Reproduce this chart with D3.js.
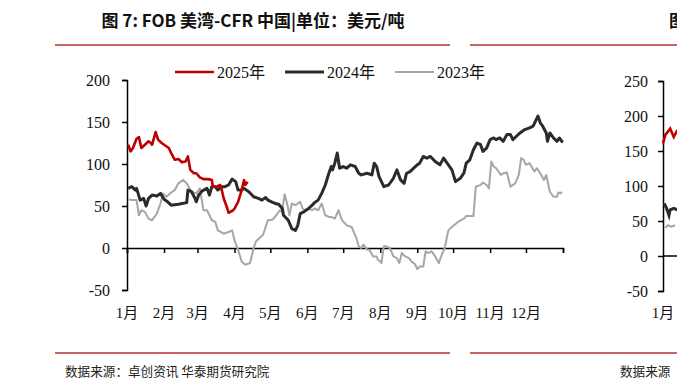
<!DOCTYPE html>
<html>
<head>
<meta charset="utf-8">
<script src="https://cdn.jsdelivr.net/npm/d3@7"></script>
<style>
  body { margin: 0; background: #fff; }
  svg { display: block; }
</style>
</head>
<body>
<div id="chart"></div>
<script>
// Canvas size
var svgWidth = 677;
var svgHeight = 389;

// Day-of-year and price spread (USD/t)
var days2025 = [1,3,5,8,10,12,15,18,20,21,24,26,29,35,37,40,43,46,49,51,53,56,58,61,64,68,71,72,75,78,79,81,84,85,88,90,93,96,98,99,101];
var vals2025 = [123,115,119,130,132,119,123,127,125,123,138,129,125,119,113,105,106,102,103,109,93,89,89,84,82,82,81,73,73,75,71,59,47,42,44,47,55,69,81,75,79];

var days2024 = [1,4,7,8,11,14,16,18,21,25,28,31,34,37,43,50,51,54,57,58,60,63,67,69,71,74,76,79,82,85,88,91,93,96,98,102,106,110,113,116,118,121,124,127,130,131,135,138,141,143,145,148,152,155,157,160,163,166,169,171,172,174,176,178,181,184,187,191,194,196,201,205,207,209,211,215,219,223,226,229,232,234,237,240,243,245,248,251,254,258,262,265,268,272,275,279,282,284,287,290,293,296,298,301,304,307,309,312,315,318,321,323,326,329,333,337,340,342,344,346,348,351,352,354,357,360,362,364,365];
var vals2024 = [71,73,69,71,57,59,50,59,63,62,65,58,55,51,52,54,69,67,59,55,63,68,71,63,73,73,69,73,73,75,82,79,69,69,71,67,61,59,57,60,57,55,53,52,47,39,33,23,21,27,41,43,47,51,54,57,65,75,89,97,93,101,113,95,97,95,99,97,89,87,89,87,101,97,85,73,75,83,93,81,77,89,91,95,99,101,109,107,109,103,99,107,101,93,79,83,89,101,105,117,125,123,115,119,129,131,129,131,127,135,135,129,133,137,141,143,145,151,157,149,145,137,127,137,131,127,131,127,126];

var days2023 = [1,4,8,10,12,15,18,21,25,28,30,33,36,40,43,47,50,54,58,61,64,67,71,74,76,81,85,88,90,93,96,99,103,106,108,111,114,117,118,122,125,128,130,131,132,134,136,138,141,145,147,149,152,155,157,160,163,166,169,171,174,177,180,184,188,191,192,194,196,198,201,203,206,209,210,212,213,215,217,220,223,226,228,230,233,236,238,241,243,245,248,250,252,255,258,261,263,266,269,272,277,282,284,289,290,292,296,298,301,303,305,307,309,313,315,318,321,325,328,330,332,334,337,341,343,346,349,351,354,357,360,361,363,364];
var vals2023 = [58,57,57,39,45,43,35,33,41,53,65,61,65,69,77,81,77,67,65,71,45,45,33,31,21,17,19,21,9,-2,-16,-20,-18,0,8,12,16,29,33,34,39,45,43,55,64,53,39,53,51,55,47,45,47,45,47,45,53,39,37,37,35,45,33,27,25,15,12,2,0,4,-2,-2,-10,-10,-14,-16,-18,2,2,0,-10,-12,-18,-6,-10,-12,-16,-19,-25,-22,-22,-4,-6,-4,-10,-18,-10,0,21,25,31,35,38,38,38,73,75,78,75,71,103,97,95,87,89,90,73,77,87,107,105,99,101,91,95,89,81,87,67,61,61,66,65,67];

// Start of the neighbouring chart (cut off at the right edge)
var rightDays2025 = [0,2,6,9,12];
var rightVals2025 = [161,173,182,170,180];
var rightDays2024 = [1,3,5,6,9,12];
var rightVals2024 = [75,68,58,66,68,66];
var rightDays2023 = [2,4,7,10];
var rightVals2023 = [40,44,42,44];

var monthLabels = ["1月","2月","3月","4月","5月","6月","7月","8月","9月","10月","11月","12月"];
var monthStarts = [0,31,59,90,120,151,181,212,243,273,304,334,365];
var yTicks = [-50,0,50,100,150,200];
var rightYTicks = [-50,0,50,100,150,200,250];

var series = [
  {name: "2025年", days: days2025, vals: vals2025, color: "#c00000", width: 2.6},
  {name: "2024年", days: days2024, vals: vals2024, color: "#2b2b2b", width: 3},
  {name: "2023年", days: days2023, vals: vals2023, color: "#a6a6a6", width: 2}
];

var serif = "'Liberation Serif','Times New Roman','Noto Sans CJK SC',serif";
var plainNum = function(d) { return String(d); };  // keeps the hyphen in "-50"

var svg = d3.select("#chart").append("svg")
  .attr("width", svgWidth)
  .attr("height", svgHeight);

// Title and red rules
svg.append("text")
  .attr("x", 253).attr("y", 27)
  .attr("text-anchor", "middle")
  .style("font-family", "'Noto Sans CJK SC',sans-serif")
  .style("font-weight", "bold")
  .style("font-size", "17px")
  .attr("fill", "#111")
  .text("图 7: FOB 美湾-CFR 中国|单位：美元/吨");

svg.append("text")
  .attr("x", 669).attr("y", 27)
  .style("font-family", "'Noto Sans CJK SC',sans-serif")
  .style("font-weight", "bold")
  .style("font-size", "17px")
  .attr("fill", "#111")
  .text("图");

[[55, 450], [470, 677]].forEach(function(r) {
  svg.append("line").attr("x1", r[0]).attr("x2", r[1]).attr("y1", 45).attr("y2", 45)
    .attr("stroke", "#c96464").attr("stroke-width", 2);
  svg.append("line").attr("x1", r[0]).attr("x2", r[1]).attr("y1", 353).attr("y2", 353)
    .attr("stroke", "#c96464").attr("stroke-width", 2);
});

svg.append("text")
  .attr("x", 65).attr("y", 376)
  .style("font-family", "'Noto Sans CJK SC',sans-serif")
  .style("font-size", "12.6px")
  .attr("fill", "#222")
  .text("数据来源：卓创资讯 华泰期货研究院");
svg.append("text")
  .attr("x", 620).attr("y", 376)
  .style("font-family", "'Noto Sans CJK SC',sans-serif")
  .style("font-size", "12.6px")
  .attr("fill", "#222")
  .text("数据来源");

// Main chart scales
var x = d3.scaleLinear().domain([0, 365]).range([127, 563]);
var y = d3.scaleLinear().domain([-50, 200]).range([290, 80]);

// Left axis
var leftAxis = d3.axisLeft(y).tickValues(yTicks).tickSize(5).tickPadding(12).tickFormat(plainNum);
var gy = svg.append("g").attr("transform", "translate(127,0)").call(leftAxis);
gy.select(".domain").attr("stroke", "#000").attr("stroke-width", 1.5);
gy.selectAll(".tick line").attr("stroke", "#000").attr("stroke-width", 1.5);
gy.selectAll("text").style("font-family", serif).style("font-size", "16px").attr("fill", "#111");

// Zero axis with month ticks
var bottomAxis = d3.axisBottom(x).tickValues(monthStarts).tickSize(5).tickFormat("");
var gx = svg.append("g").attr("transform", "translate(0," + y(0) + ")").call(bottomAxis);
gx.select(".domain").attr("stroke", "#000").attr("stroke-width", 1.5);
gx.selectAll(".tick line").attr("stroke", "#000").attr("stroke-width", 1.5);

svg.selectAll(".month")
  .data(monthLabels)
  .enter().append("text")
  .attr("x", function(d, i) { return x(monthStarts[i]); })
  .attr("y", 318)
  .attr("text-anchor", "middle")
  .style("font-family", serif)
  .style("font-size", "15px")
  .attr("fill", "#111")
  .text(function(d) { return d; });

// Lines (2023 first so 2025 sits on top)
var line = d3.line()
  .x(function(d) { return x(d[0]); })
  .y(function(d) { return y(d[1]); });

series.slice().reverse().forEach(function(s) {
  svg.append("path")
    .datum(d3.zip(s.days, s.vals))
    .attr("d", line)
    .attr("fill", "none")
    .attr("stroke", s.color)
    .attr("stroke-width", s.width)
    .attr("stroke-linejoin", "round");
});

// Legend
var legendX = [175, 285, 395];
series.forEach(function(s, i) {
  svg.append("line")
    .attr("x1", legendX[i]).attr("x2", legendX[i] + 39)
    .attr("y1", 72).attr("y2", 72)
    .attr("stroke", s.color).attr("stroke-width", s.width);
  svg.append("text")
    .attr("x", legendX[i] + 42).attr("y", 78)
    .style("font-family", serif)
    .style("font-size", "16px")
    .attr("fill", "#111")
    .text(s.name);
});

// Neighbouring chart, only its left edge is visible
var x2 = d3.scaleLinear().domain([0, 365]).range([663, 1099]);
var y2 = d3.scaleLinear().domain([-50, 250]).range([291, 81]);

var gy2 = svg.append("g").attr("transform", "translate(663,0)")
  .call(d3.axisLeft(y2).tickValues(rightYTicks).tickSize(5).tickPadding(10).tickFormat(plainNum));
gy2.select(".domain").attr("stroke", "#000").attr("stroke-width", 1.5);
gy2.selectAll(".tick line").attr("stroke", "#000").attr("stroke-width", 1.5);
gy2.selectAll("text").style("font-family", serif).style("font-size", "16px").attr("fill", "#111");

svg.append("line")
  .attr("x1", 663).attr("x2", 677).attr("y1", y2(0)).attr("y2", y2(0))
  .attr("stroke", "#000").attr("stroke-width", 1.5);
svg.append("text")
  .attr("x", 663).attr("y", 318)
  .attr("text-anchor", "middle")
  .style("font-family", serif).style("font-size", "15px").attr("fill", "#111")
  .text("1月");

var line2 = d3.line()
  .x(function(d) { return x2(d[0]); })
  .y(function(d) { return y2(d[1]); });
[[rightDays2023, rightVals2023, series[2]], [rightDays2024, rightVals2024, series[1]], [rightDays2025, rightVals2025, series[0]]]
  .forEach(function(r) {
    svg.append("path")
      .datum(d3.zip(r[0], r[1]))
      .attr("d", line2)
      .attr("fill", "none")
      .attr("stroke", r[2].color)
      .attr("stroke-width", r[2].width);
  });
</script>
</body>
</html>
